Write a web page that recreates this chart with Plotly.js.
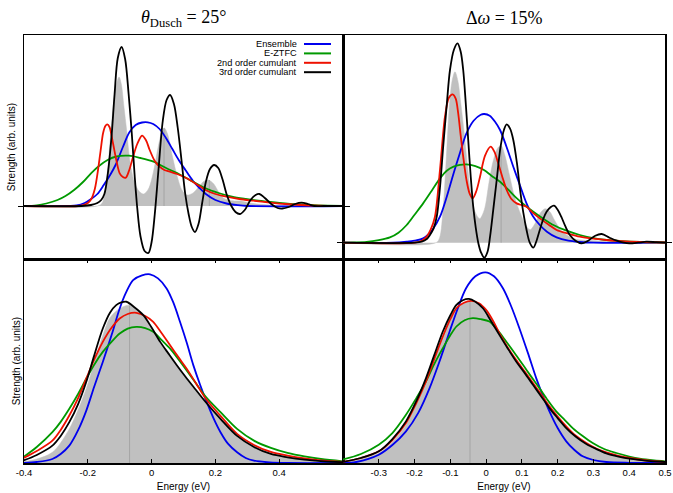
<!DOCTYPE html>
<html>
<head>
<meta charset="utf-8">
<script src="https://cdn.plot.ly/plotly-3.0.1.min.js"></script>
<style>html,body{margin:0;padding:0;background:#fff;}#chart{width:673px;height:493px;}</style>
</head>
<body>
<div id="chart"></div>
<script>
// ---------- data: [energy (eV), strength (arb. units)] ----------
const seriesNames = ["Ensemble", "E-ZTFC", "2nd order cumulant", "3rd order cumulant"];
const seriesColors = ["#0000ee", "#009900", "#ee1100", "#000000"];
const panelTitles = ["<i>θ</i><sub>Dusch</sub> = 25°", "Δ<i>ω</i> = 15%"];
const xLabel = "Energy (eV)";
const yLabel = "Strength (arb. units)";
const leftTickVals = [-0.4, -0.2, 0, 0.2, 0.4];
const leftTickText = ["-0.4", "-0.2", "0", "0.2", "0.4"];
const rightTickVals = [-0.3, -0.2, -0.1, 0, 0.1, 0.2, 0.3, 0.4, 0.5];
const rightTickText = ["-0.3", "-0.2", "-0.1", "0", "0.1", "0.2", "0.3", "0.4", "0.5"];

// top-left: theta_Dusch = 25 deg, spectrum
const tlGray = [[-0.40,0],[-0.17,0],[-0.155,0.03],[-0.14,0.3],[-0.13,0.65],[-0.12,1.0],[-0.11,1.22],[-0.102,1.29],[-0.095,1.22],[-0.087,1.0],[-0.078,0.75],[-0.068,0.45],[-0.055,0.25],[-0.04,0.15],[-0.025,0.12],[-0.01,0.17],[0.005,0.33],[0.02,0.58],[0.032,0.74],[0.04,0.78],[0.05,0.72],[0.065,0.5],[0.08,0.3],[0.095,0.16],[0.11,0.11],[0.13,0.13],[0.15,0.2],[0.165,0.25],[0.178,0.26],[0.195,0.22],[0.21,0.14],[0.225,0.08],[0.24,0.06],[0.26,0.05],[0.28,0.05],[0.30,0.035],[0.33,0.02],[0.37,0.01],[0.42,0],[0.60,0]];
const tlSticks = [[0.039,0.78],[0.181,0.26]];
const tlEnsemble = [[-0.40,0],[-0.26,0],[-0.235,0.005],[-0.21,0.03],[-0.19,0.07],[-0.17,0.12],[-0.15,0.21],[-0.13,0.31],[-0.113,0.41],[-0.09,0.59],[-0.07,0.735],[-0.05,0.81],[-0.03,0.835],[-0.012,0.837],[0.005,0.82],[0.025,0.77],[0.045,0.68],[0.065,0.57],[0.085,0.46],[0.106,0.36],[0.13,0.25],[0.15,0.18],[0.17,0.12],[0.2,0.06],[0.235,0.025],[0.27,0.008],[0.3,0],[0.6,0]];
const tlZTFC = [[-0.40,0.0],[-0.36,0.007],[-0.33,0.025],[-0.295,0.06],[-0.27,0.1],[-0.243,0.16],[-0.215,0.24],[-0.19,0.327],[-0.165,0.4],[-0.138,0.46],[-0.11,0.495],[-0.071,0.503],[-0.035,0.48],[0.006,0.443],[0.047,0.377],[0.08,0.33],[0.11,0.277],[0.14,0.225],[0.169,0.177],[0.21,0.13],[0.252,0.093],[0.295,0.07],[0.335,0.053],[0.38,0.038],[0.419,0.027],[0.47,0.015],[0.523,0.007],[0.6,0.002]];
const tlCum2 = [[-0.40,0],[-0.23,0],[-0.214,0.01],[-0.2,0.03],[-0.189,0.07],[-0.178,0.17],[-0.168,0.36],[-0.16,0.55],[-0.152,0.73],[-0.145,0.8],[-0.139,0.817],[-0.132,0.79],[-0.121,0.627],[-0.11,0.45],[-0.1,0.327],[-0.09,0.29],[-0.081,0.283],[-0.07,0.36],[-0.058,0.493],[-0.045,0.62],[-0.03,0.703],[-0.018,0.66],[-0.006,0.56],[0.01,0.45],[0.025,0.393],[0.04,0.36],[0.057,0.343],[0.08,0.32],[0.11,0.277],[0.14,0.22],[0.169,0.16],[0.2,0.12],[0.235,0.093],[0.275,0.07],[0.319,0.053],[0.37,0.035],[0.419,0.02],[0.47,0.01],[0.523,0.003],[0.6,0]];
const tlCum3 = [[-0.40,0],[-0.22,0],[-0.19,0.01],[-0.17,0.03],[-0.158,0.06],[-0.148,0.12],[-0.137,0.33],[-0.126,0.68],[-0.116,1.12],[-0.106,1.48],[-0.094,1.59],[-0.083,1.47],[-0.072,1.12],[-0.062,0.72],[-0.053,0.3],[-0.045,-0.02],[-0.035,-0.3],[-0.022,-0.45],[-0.01,-0.47],[0.0,-0.36],[0.01,-0.08],[0.022,0.38],[0.035,0.85],[0.047,1.06],[0.058,1.11],[0.07,1.02],[0.082,0.78],[0.094,0.45],[0.105,0.13],[0.116,-0.08],[0.126,-0.21],[0.136,-0.26],[0.147,-0.18],[0.158,0.02],[0.17,0.24],[0.183,0.37],[0.196,0.41],[0.209,0.38],[0.222,0.27],[0.236,0.11],[0.25,0.0],[0.263,-0.06],[0.277,-0.08],[0.292,-0.04],[0.31,0.06],[0.326,0.11],[0.338,0.12],[0.355,0.08],[0.375,0.02],[0.395,-0.02],[0.41,-0.025],[0.43,-0.01],[0.45,0.02],[0.47,0.033],[0.49,0.02],[0.51,0.0],[0.54,0],[0.6,0]];

// top-right: delta omega = 15 %, spectrum
const trGray = [[-0.40,0],[-0.14,0],[-0.13,0.05],[-0.12,0.35],[-0.112,0.8],[-0.103,1.35],[-0.095,1.62],[-0.087,1.71],[-0.079,1.62],[-0.071,1.4],[-0.062,1.12],[-0.053,0.8],[-0.043,0.5],[-0.031,0.31],[-0.018,0.24],[-0.005,0.33],[0.008,0.6],[0.02,0.82],[0.033,0.95],[0.042,0.97],[0.052,0.88],[0.065,0.68],[0.08,0.45],[0.095,0.3],[0.11,0.18],[0.123,0.13],[0.138,0.2],[0.152,0.3],[0.165,0.34],[0.178,0.31],[0.192,0.22],[0.21,0.12],[0.225,0.077],[0.245,0.04],[0.262,0.027],[0.3,0.02],[0.35,0.015],[0.4,0.01],[0.45,0.008],[0.5,0.005]];
const trSticks = [[0.042,0.97]];
const trEnsemble = [[-0.40,0],[-0.26,0],[-0.222,0.01],[-0.2,0.02],[-0.176,0.043],[-0.15,0.13],[-0.129,0.26],[-0.11,0.46],[-0.091,0.693],[-0.073,0.9],[-0.055,1.093],[-0.035,1.22],[-0.015,1.28],[-0.005,1.287],[0.01,1.27],[0.025,1.21],[0.039,1.127],[0.057,0.96],[0.076,0.76],[0.095,0.57],[0.113,0.393],[0.13,0.27],[0.15,0.177],[0.17,0.11],[0.197,0.053],[0.23,0.02],[0.262,0.007],[0.3,0],[0.5,0]];
const trZTFC = [[-0.40,0],[-0.37,0.002],[-0.334,0.007],[-0.3,0.025],[-0.269,0.053],[-0.245,0.1],[-0.222,0.177],[-0.2,0.28],[-0.176,0.393],[-0.152,0.52],[-0.129,0.643],[-0.11,0.72],[-0.091,0.76],[-0.073,0.778],[-0.055,0.783],[-0.03,0.765],[-0.006,0.727],[0.015,0.67],[0.039,0.61],[0.062,0.53],[0.086,0.443],[0.11,0.37],[0.132,0.31],[0.16,0.24],[0.188,0.177],[0.225,0.12],[0.262,0.077],[0.3,0.045],[0.337,0.027],[0.38,0.015],[0.43,0.007],[0.5,0.002]];
const trCum2 = [[-0.40,0],[-0.2,0],[-0.18,0.02],[-0.166,0.06],[-0.155,0.13],[-0.143,0.26],[-0.129,0.727],[-0.115,1.26],[-0.104,1.45],[-0.0935,1.483],[-0.085,1.44],[-0.078,1.293],[-0.071,1.07],[-0.064,0.86],[-0.055,0.63],[-0.046,0.49],[-0.0376,0.443],[-0.027,0.52],[-0.017,0.66],[-0.003,0.87],[0.0127,0.96],[0.023,0.91],[0.034,0.793],[0.046,0.65],[0.0575,0.527],[0.07,0.44],[0.0855,0.393],[0.1,0.375],[0.113,0.36],[0.13,0.3],[0.15,0.243],[0.175,0.18],[0.197,0.127],[0.23,0.09],[0.262,0.06],[0.3,0.04],[0.337,0.027],[0.38,0.015],[0.43,0.007],[0.5,0.002]];
const trCum3 = [[-0.40,0],[-0.2,0],[-0.18,0.01],[-0.165,0.04],[-0.157,0.077],[-0.147,0.14],[-0.138,0.26],[-0.129,0.55],[-0.12,0.96],[-0.11,1.38],[-0.101,1.727],[-0.09,1.93],[-0.08,1.993],[-0.071,1.91],[-0.064,1.727],[-0.057,1.4],[-0.05,1.027],[-0.043,0.66],[-0.036,0.36],[-0.029,0.15],[-0.022,0.0],[-0.014,-0.1],[-0.005,-0.15],[0.004,-0.09],[0.011,0.06],[0.02,0.33],[0.0296,0.627],[0.04,0.95],[0.05,1.13],[0.0575,1.183],[0.067,1.14],[0.076,1.027],[0.086,0.8],[0.095,0.527],[0.104,0.3],[0.113,0.127],[0.122,0.0],[0.132,-0.05],[0.141,0.02],[0.15,0.127],[0.16,0.24],[0.169,0.31],[0.18,0.355],[0.19,0.37],[0.2,0.33],[0.21,0.26],[0.222,0.16],[0.234,0.077],[0.25,0.02],[0.267,-0.007],[0.285,0.02],[0.305,0.07],[0.323,0.087],[0.345,0.05],[0.365,0.02],[0.385,0.0],[0.4,-0.007],[0.425,0.0],[0.448,0.01],[0.475,0.005],[0.5,0]];

// bottom-left: theta_Dusch = 25 deg, absorption band
const blGray = [[-0.403,0.01],[-0.36,0.04],[-0.311,0.107],[-0.258,0.34],[-0.205,0.74],[-0.18,1.0],[-0.153,1.27],[-0.13,1.45],[-0.1,1.54],[-0.07,1.573],[-0.05,1.54],[-0.026,1.47],[0.027,1.2],[0.079,0.97],[0.131,0.75],[0.17,0.6],[0.216,0.44],[0.268,0.27],[0.321,0.16],[0.374,0.09],[0.426,0.055],[0.479,0.03],[0.53,0.015],[0.605,0.005]];
const blSticks = [[-0.069,1.57]];
const blEnsemble = [[-0.4,0],[-0.36,0.01],[-0.311,0.04],[-0.285,0.09],[-0.258,0.173],[-0.23,0.33],[-0.205,0.52],[-0.18,0.76],[-0.153,1.007],[-0.125,1.28],[-0.1,1.54],[-0.08,1.7],[-0.058,1.823],[-0.03,1.87],[-0.005,1.88],[0.02,1.84],[0.047,1.74],[0.068,1.6],[0.089,1.407],[0.11,1.2],[0.131,0.973],[0.152,0.78],[0.173,0.607],[0.195,0.44],[0.216,0.307],[0.24,0.19],[0.268,0.107],[0.295,0.05],[0.321,0.023],[0.37,0.006],[0.426,0],[0.6,0]];
const blZTFC = [[-0.403,0.057],[-0.36,0.16],[-0.311,0.307],[-0.285,0.41],[-0.258,0.54],[-0.23,0.69],[-0.205,0.84],[-0.18,0.98],[-0.153,1.107],[-0.125,1.21],[-0.1,1.29],[-0.075,1.34],[-0.048,1.357],[-0.02,1.345],[0.005,1.307],[0.03,1.23],[0.058,1.14],[0.085,1.03],[0.11,0.923],[0.14,0.79],[0.17,0.66],[0.216,0.507],[0.268,0.34],[0.321,0.223],[0.374,0.15],[0.426,0.1],[0.479,0.065],[0.531,0.04],[0.605,0.015]];
const blCum2 = [[-0.403,0.047],[-0.36,0.12],[-0.311,0.223],[-0.285,0.33],[-0.258,0.473],[-0.23,0.65],[-0.205,0.84],[-0.18,1.03],[-0.153,1.207],[-0.125,1.35],[-0.1,1.44],[-0.075,1.485],[-0.048,1.497],[-0.02,1.465],[0.005,1.407],[0.03,1.3],[0.058,1.173],[0.085,1.05],[0.11,0.94],[0.14,0.79],[0.17,0.64],[0.216,0.47],[0.268,0.29],[0.321,0.18],[0.374,0.11],[0.426,0.073],[0.479,0.045],[0.53,0.027],[0.605,0.01]];
const blCum3 = [[-0.403,0.023],[-0.36,0.08],[-0.311,0.173],[-0.285,0.27],[-0.258,0.407],[-0.23,0.59],[-0.205,0.807],[-0.18,1.07],[-0.153,1.34],[-0.13,1.5],[-0.111,1.573],[-0.095,1.6],[-0.079,1.607],[-0.055,1.555],[-0.026,1.473],[0.0,1.35],[0.027,1.207],[0.053,1.09],[0.079,0.975],[0.105,0.865],[0.131,0.76],[0.17,0.605],[0.216,0.44],[0.268,0.27],[0.321,0.16],[0.374,0.09],[0.426,0.057],[0.479,0.033],[0.53,0.018],[0.605,0.007]];

// bottom-right: delta omega = 15 %, absorption band
const brGray = [[-0.403,0.005],[-0.35,0.04],[-0.3,0.1],[-0.262,0.21],[-0.224,0.38],[-0.195,0.58],[-0.168,0.8],[-0.145,1.03],[-0.121,1.26],[-0.1,1.43],[-0.083,1.54],[-0.062,1.6],[-0.045,1.62],[-0.02,1.59],[0.0,1.52],[0.037,1.29],[0.084,1.02],[0.131,0.79],[0.177,0.555],[0.224,0.355],[0.28,0.19],[0.336,0.1],[0.401,0.045],[0.45,0.022],[0.5,0.01]];
const brSticks = [[-0.045,1.62]];
const brEnsemble = [[-0.4,0],[-0.363,0.01],[-0.3,0.083],[-0.262,0.18],[-0.224,0.317],[-0.19,0.5],[-0.158,0.75],[-0.13,1.02],[-0.102,1.317],[-0.08,1.54],[-0.056,1.75],[-0.03,1.87],[-0.002,1.91],[0.022,1.87],[0.047,1.75],[0.07,1.57],[0.093,1.35],[0.117,1.1],[0.14,0.85],[0.158,0.68],[0.177,0.517],[0.2,0.35],[0.224,0.217],[0.247,0.13],[0.27,0.067],[0.3,0.03],[0.336,0.01],[0.4,0.002],[0.5,0]];
const brZTFC = [[-0.403,0.033],[-0.35,0.09],[-0.3,0.183],[-0.262,0.3],[-0.224,0.483],[-0.195,0.65],[-0.168,0.817],[-0.145,0.99],[-0.121,1.15],[-0.1,1.28],[-0.083,1.367],[-0.06,1.43],[-0.037,1.45],[-0.015,1.44],[0.009,1.417],[0.032,1.33],[0.056,1.217],[0.08,1.1],[0.103,0.983],[0.126,0.865],[0.149,0.75],[0.172,0.63],[0.196,0.517],[0.22,0.43],[0.242,0.35],[0.27,0.27],[0.298,0.2],[0.33,0.14],[0.364,0.1],[0.4,0.065],[0.429,0.043],[0.47,0.025],[0.5,0.017]];
const brCum2 = [[-0.403,0.01],[-0.35,0.05],[-0.3,0.117],[-0.262,0.23],[-0.224,0.4],[-0.195,0.6],[-0.168,0.817],[-0.145,1.04],[-0.121,1.267],[-0.1,1.44],[-0.083,1.55],[-0.062,1.605],[-0.042,1.623],[-0.02,1.6],[0.0,1.533],[0.02,1.42],[0.037,1.3],[0.06,1.16],[0.084,1.033],[0.108,0.915],[0.131,0.8],[0.154,0.685],[0.177,0.567],[0.2,0.465],[0.224,0.367],[0.25,0.275],[0.28,0.2],[0.308,0.145],[0.336,0.107],[0.37,0.072],[0.401,0.05],[0.45,0.025],[0.5,0.01]];
const brCum3 = [[-0.403,0.01],[-0.35,0.05],[-0.3,0.117],[-0.262,0.24],[-0.224,0.417],[-0.195,0.62],[-0.168,0.85],[-0.145,1.08],[-0.121,1.317],[-0.1,1.48],[-0.083,1.583],[-0.065,1.63],[-0.048,1.643],[-0.03,1.615],[-0.009,1.55],[0.014,1.42],[0.037,1.283],[0.06,1.15],[0.084,1.017],[0.108,0.9],[0.131,0.783],[0.154,0.667],[0.177,0.55],[0.2,0.45],[0.224,0.35],[0.25,0.265],[0.28,0.19],[0.308,0.14],[0.336,0.097],[0.37,0.065],[0.401,0.043],[0.45,0.022],[0.5,0.01]];

// ---------- build ----------
const panels = [
  {xa: "x",  ya: "y",  gray: tlGray, sticks: tlSticks, curves: [tlEnsemble, tlZTFC, tlCum2, tlCum3]},
  {xa: "x2", ya: "y2", gray: trGray, sticks: trSticks, curves: [trEnsemble, trZTFC, trCum2, trCum3]},
  {xa: "x3", ya: "y3", gray: blGray, sticks: blSticks, curves: [blEnsemble, blZTFC, blCum2, blCum3]},
  {xa: "x4", ya: "y4", gray: brGray, sticks: brSticks, curves: [brEnsemble, brZTFC, brCum2, brCum3]}
];
const traces = [];
panels.forEach(p => {
  traces.push({type: "scatter", mode: "lines", x: p.gray.map(d => d[0]), y: p.gray.map(d => d[1]),
    xaxis: p.xa, yaxis: p.ya, fill: "tozeroy", fillcolor: "#c0c0c0",
    line: {color: "#c0c0c0", width: 0.5, shape: "spline", smoothing: 0.9}, showlegend: false, hoverinfo: "skip"});
  const sx = [], sy = [];
  p.sticks.forEach(s => { sx.push(s[0], s[0], null); sy.push(0, s[1], null); });
  traces.push({type: "scatter", mode: "lines", x: sx, y: sy, xaxis: p.xa, yaxis: p.ya,
    line: {color: "#a4a4a4", width: 1}, showlegend: false, hoverinfo: "skip"});
  p.curves.forEach((c, i) => {
    traces.push({type: "scatter", mode: "lines", name: seriesNames[i],
      x: c.map(d => d[0]), y: c.map(d => d[1]), xaxis: p.xa, yaxis: p.ya,
      line: {color: seriesColors[i], width: 1.8, shape: "spline", smoothing: 0.9},
      showlegend: false, hoverinfo: "skip"});
  });
});

const W = 673, H = 493;
const L = 24, M = 343, R = 665, T = 35, MID = 259, B = 463;
const xl = [L / W, M / W], xr = [M / W, R / W];
const yt = [1 - MID / H, 1 - T / H], yb = [1 - B / H, 1 - MID / H];
const sans = "Liberation Sans, Arial, sans-serif";
const tickFont = {family: sans, size: 9.5, color: "#000"};
const labelFont = {family: sans, size: 10, color: "#000"};
const boxAxis = {showline: true, linecolor: "#000", linewidth: 1.5, mirror: true, showgrid: false, zeroline: false, fixedrange: true};

const layout = {
  width: W, height: H, margin: {l: 0, r: 0, t: 0, b: 0},
  paper_bgcolor: "#fff", plot_bgcolor: "#fff", showlegend: false,
  font: {family: sans, size: 9.5, color: "#000"},
  xaxis:  Object.assign({}, boxAxis, {domain: xl, anchor: "y",  range: [-0.4, 0.6], ticks: "", showticklabels: false}),
  xaxis2: Object.assign({}, boxAxis, {domain: xr, anchor: "y2", range: [-0.4, 0.5], ticks: "", showticklabels: false}),
  xaxis3: Object.assign({}, boxAxis, {domain: xl, anchor: "y3", range: [-0.4, 0.6], mirror: "ticks", ticks: "inside", ticklen: 4, tickwidth: 1, tickcolor: "#000",
           tickmode: "array", tickvals: leftTickVals, ticktext: leftTickText, tickfont: tickFont,
           title: {text: xLabel, font: labelFont, standoff: 6}}),
  xaxis4: Object.assign({}, boxAxis, {domain: xr, anchor: "y4", range: [-0.4, 0.5], mirror: "ticks", ticks: "inside", ticklen: 4, tickwidth: 1, tickcolor: "#000",
           tickmode: "array", tickvals: rightTickVals, ticktext: rightTickText, tickfont: tickFont,
           title: {text: xLabel, font: labelFont, standoff: 6}}),
  yaxis:  Object.assign({}, boxAxis, {domain: yt, anchor: "x",  range: [-0.53, 1.71], mirror: "ticks", ticks: "outside", ticklen: 5, tickcolor: "#000", tickmode: "array", tickvals: [0], showticklabels: false,
           title: {text: yLabel, font: labelFont, standoff: 0}}),
  yaxis2: Object.assign({}, boxAxis, {domain: yt, anchor: "x2", range: [-0.163, 2.077], mirror: "ticks", ticks: "outside", ticklen: 5, tickcolor: "#000", tickmode: "array", tickvals: [0], showticklabels: false}),
  yaxis3: Object.assign({}, boxAxis, {domain: yb, anchor: "x3", range: [0, 2.033], ticks: "", showticklabels: false,
           title: {text: yLabel, font: labelFont, standoff: 0}}),
  yaxis4: Object.assign({}, boxAxis, {domain: yb, anchor: "x4", range: [0, 2.043], ticks: "", showticklabels: false}),
  annotations: [],
  shapes: []
};

// panel titles
[[(L + M) / 2, panelTitles[0]], [(M + R) / 2, panelTitles[1]]].forEach(t => {
  layout.annotations.push({xref: "paper", yref: "paper", x: t[0] / W, y: 1 - 18 / H, xanchor: "center", yanchor: "middle",
    text: t[1], showarrow: false, font: {family: "Liberation Serif, DejaVu Serif, serif", size: 18, color: "#000"}});
});

// legend (text right-aligned, line sample on the right)
const legRows = [44, 53.4, 62.8, 72.2];
seriesNames.forEach((n, i) => {
  layout.annotations.push({xref: "paper", yref: "paper", x: 298 / W, y: 1 - legRows[i] / H, xanchor: "right", yanchor: "middle",
    text: n, showarrow: false, borderpad: 0, font: {family: sans, size: 9.2, color: "#000"}});
  layout.shapes.push({type: "line", xref: "paper", yref: "paper", x0: 304 / W, x1: 331 / W, y0: 1 - legRows[i] / H, y1: 1 - legRows[i] / H,
    line: {color: seriesColors[i], width: 2}});
});

Plotly.newPlot("chart", traces, layout, {displayModeBar: false, staticPlot: true});
</script>
</body>
</html>
